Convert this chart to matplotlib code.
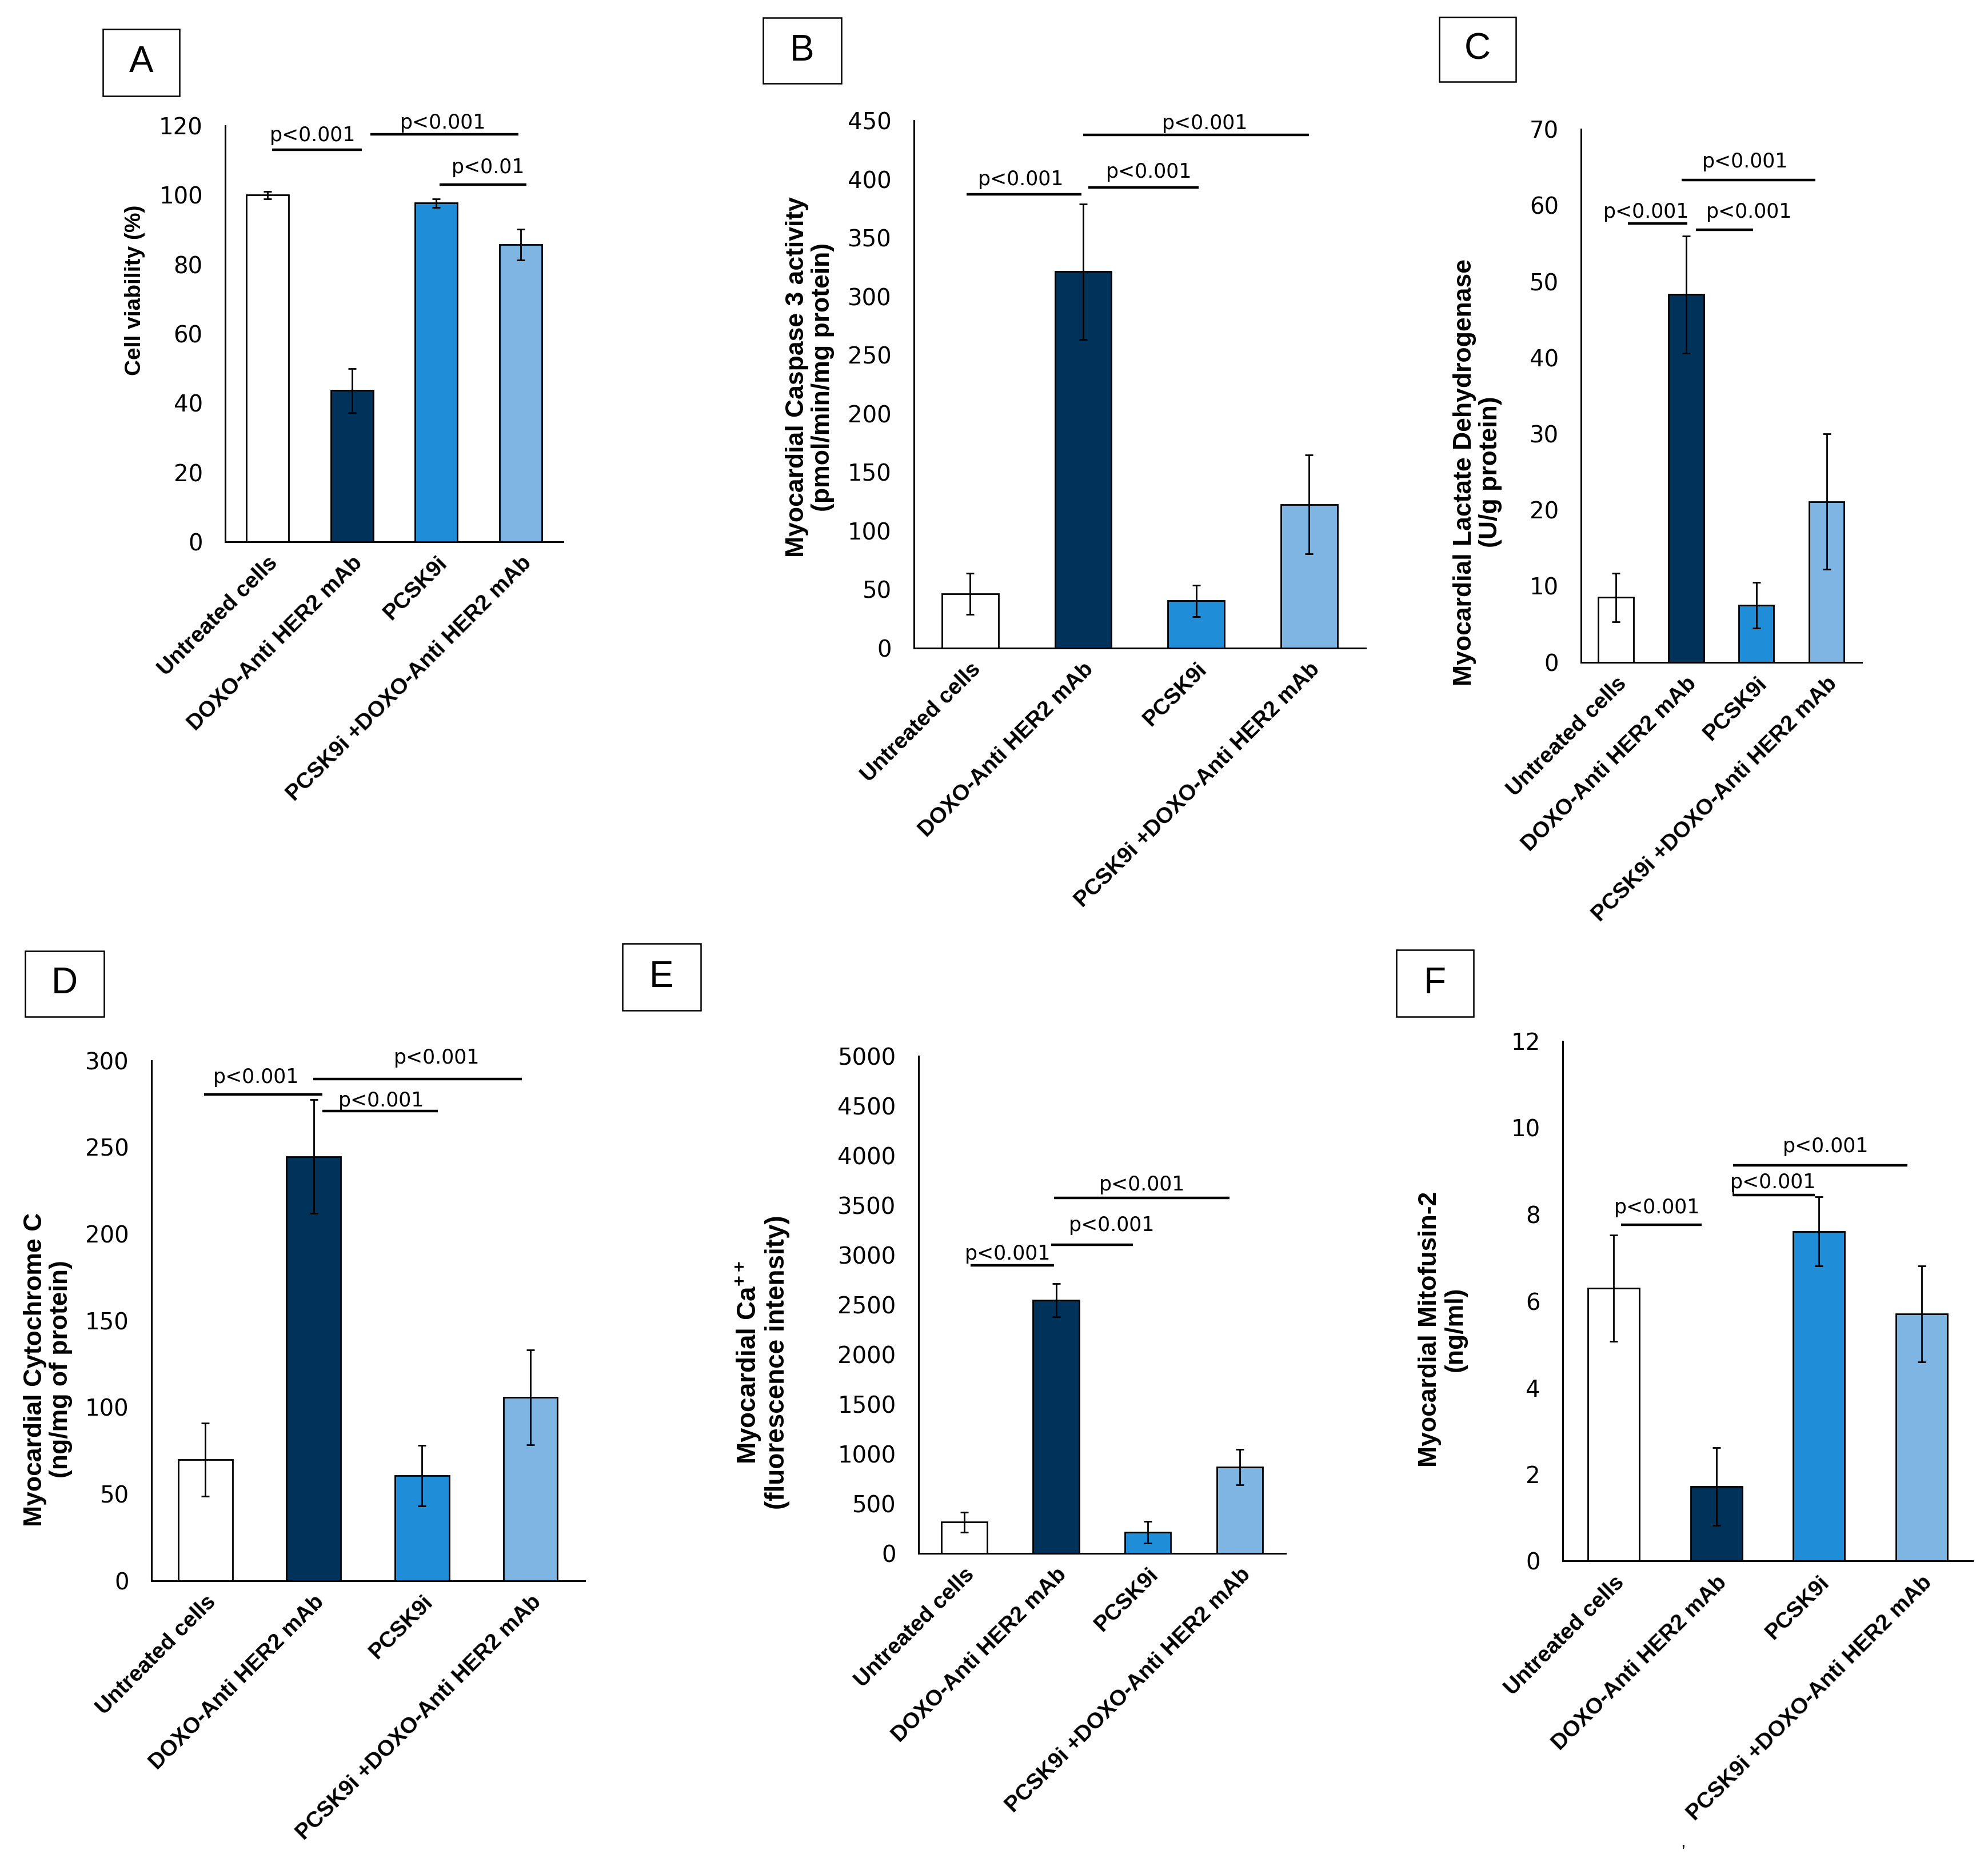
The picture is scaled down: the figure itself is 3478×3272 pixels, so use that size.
import matplotlib
matplotlib.use("Agg")
import matplotlib.pyplot as plt
from matplotlib.patches import Rectangle

plt.rcParams['mathtext.fontset'] = 'custom'
plt.rcParams['mathtext.rm'] = 'Liberation Sans'
plt.rcParams['mathtext.bf'] = 'Liberation Sans:bold'

W, H = 3478, 3272

groups = ['Untreated cells', 'DOXO-Anti HER2 mAb', 'PCSK9i', 'PCSK9i +DOXO-Anti HER2 mAb']
colors = ['#ffffff', '#00325a', '#208dd8', '#7fb5e3']

# panel A - cell viability
viab = [100, 43.6, 97.7, 85.7]
viab_err = [1.1, 6.4, 1.2, 4.4]
# panel B - caspase 3
casp = [46.3, 321.2, 40.3, 122.5]
casp_err = [17.7, 57.8, 13.4, 42.3]
# panel C - LDH
ldh = [8.5, 48.3, 7.5, 21.1]
ldh_err = [3.2, 7.7, 3.0, 8.9]
# panel D - cytochrome C
cytc = [69.6, 244.7, 60.5, 105.8]
cytc_err = [21.1, 32.9, 17.6, 27.4]
# panel E - Ca++
calc = [313, 2546, 209, 865]
calc_err = [101, 169, 110, 178]
# panel F - mitofusin-2
mfn2 = [6.30, 1.72, 7.61, 5.70]
mfn2_err = [1.23, 0.90, 0.80, 1.11]

# significance bars: (x0, x1, y, text x, text y, text)
sig_A = [(0.055, 1.12, 113.1, 0.54, 115.6, 'p<0.001'),
         (1.22, 2.97, 117.6, 2.08, 119.2, 'p<0.001'),
         (2.04, 3.065, 103.1, 2.615, 106.3, 'p<0.01')]
sig_B = [(-0.03, 0.987, 387.4, 0.45, 394.9, 'p<0.001'),
         (1.045, 2.02, 392.9, 1.583, 401.4, 'p<0.001'),
         (1.0, 3.0, 437.7, 2.08, 442.7, 'p<0.001')]
sig_C = [(0.174, 1.013, 57.6, 0.434, 58.4, 'p<0.001'),
         (1.135, 1.951, 56.8, 1.9, 58.4, 'p<0.001'),
         (0.932, 2.843, 63.3, 1.84, 65.0, 'p<0.001')]
sig_D = [(-0.011, 1.08, 280.6, 0.47, 287.0, 'p<0.001'),
         (1.08, 2.146, 270.8, 1.624, 273.6, 'p<0.001'),
         (0.995, 2.92, 289.4, 2.135, 298.2, 'p<0.001')]
sig_E = [(0.071, 0.976, 2896, 0.476, 2957, 'p<0.001'),
         (0.948, 1.838, 3104, 1.605, 3239, 'p<0.001'),
         (0.976, 2.89, 3577, 1.938, 3650, 'p<0.001')]
sig_F = [(0.07, 0.855, 7.76, 0.421, 8.03, 'p<0.001'),
         (1.163, 1.959, 8.45, 1.553, 8.61, 'p<0.001'),
         (1.163, 2.86, 9.14, 2.064, 9.44, 'p<0.001')]

panels = [
    # letter, values, errors, ymax, ystep, ylabel, sig, axes px (l, r, bottom, top), box px, label center px, label size
    ('A', viab, viab_err, 120, 20, 'Cell viability (%)', sig_A,
     (393.6, 985.4, 947.8, 220.1), (180, 314, 51, 168), (236, 508), 28),
    ('B', casp, casp_err, 450, 50, 'Myocardial Caspase 3 activity\n(pmol/min/mg protein)', sig_B,
     (1598.5, 2389, 1133.7, 211.2), (1335, 1472, 31, 146), (1417, 660), 32),
    ('C', ldh, ldh_err, 70, 10, 'Myocardial Lactate Dehydrogenase\n(U/g protein)', sig_C,
     (2765.7, 3257, 1158.6, 226.2), (2518, 2652, 30, 143), (2585, 826), 32),
    ('D', cytc, cytc_err, 300, 50, 'Myocardial Cytochrome C\n(ng/mg of protein)', sig_D,
     (264.5, 1022.8, 2765.5, 1855.9), (44, 182, 1664, 1779), (84, 2396), 32),
    ('E', calc, calc_err, 5000, 500, 'Myocardial Ca$^{\\mathbf{++}}$\n(fluorescence intensity)', sig_E,
     (1606.5, 2249.4, 2717.5, 1848.4), (1089, 1226, 1651, 1768), (1333, 2384), 33),
    ('F', mfn2, mfn2_err, 12, 2, 'Myocardial Mitofusin-2\n(ng/ml)', sig_F,
     (2733.6, 3451.4, 2731.4, 1821.8), (2443, 2578, 1662, 1779), (2524, 2326), 32),
]

fig = plt.figure(figsize=(W / 100, H / 100), dpi=100)

for letter, vals, errs, ymax, ystep, ylab, sig, apx, bpx, lpx, lsize in panels:
    l, r, b, t = apx
    ax = fig.add_axes([l / W, 1 - b / H, (r - l) / W, (b - t) / H])
    x = list(range(len(groups)))
    ax.bar(x, vals, width=0.5, color=colors, edgecolor='black', linewidth=2, zorder=2)
    ax.errorbar(x, vals, yerr=errs, fmt='none', ecolor='black', elinewidth=2,
                capsize=5, capthick=2, zorder=3)
    ax.set_xlim(-0.5, 3.5)
    ax.set_ylim(0, ymax)
    ticks = [i * ystep for i in range(int(round(ymax / ystep)) + 1)]
    ax.set_yticks(ticks)
    ax.set_yticklabels([str(v) for v in ticks], fontsize=29, family='DejaVu Sans')
    ax.set_xticks(x)
    ax.set_xticklabels(groups, rotation=45, ha='right', rotation_mode='anchor',
                       fontsize=28, fontweight='bold', family='Liberation Sans')
    ax.tick_params(axis='y', length=0, pad=28)
    ax.tick_params(axis='x', length=0, pad=14)
    for s in ['top', 'right']:
        ax.spines[s].set_visible(False)
    for s in ['left', 'bottom']:
        ax.spines[s].set_linewidth(2.2)
    ax.set_facecolor('none')

    for x0, x1, y, tx, ty, txt in sig:
        ax.plot([x0, x1], [y, y], color='black', lw=3.2, clip_on=False, solid_capstyle='butt')
        ax.text(tx, ty, txt, ha='center', va='baseline', fontsize=25,
                family='DejaVu Sans', clip_on=False)

    fig.text(lpx[0] / W, 1 - lpx[1] / H, ylab, rotation=90, ha='center', va='center',
             multialignment='center', fontsize=lsize, fontweight='bold',
             family='Liberation Sans', linespacing=1.1)

    bx0, bx1, by0, by1 = bpx
    fig.patches.append(Rectangle((bx0 / W, 1 - by1 / H), (bx1 - bx0) / W, (by1 - by0) / H,
                                 transform=fig.transFigure, fill=False,
                                 edgecolor='black', linewidth=1.8))
    fig.text((bx0 + bx1) / 2 / W, 1 - (by0 + by1) / 2 / H, letter, ha='center', va='center',
             fontsize=46, family='Liberation Sans')

# small left cap on the F bracket
axF = fig.axes[-1]
axF.plot([1.163, 1.163], [8.45, 8.73], color='black', lw=2, clip_on=False)

fig.text(2940 / W, 1 - 3231 / H, ',', fontsize=22, family='Liberation Sans')

fig.savefig('out.png', dpi=100, facecolor='white')
